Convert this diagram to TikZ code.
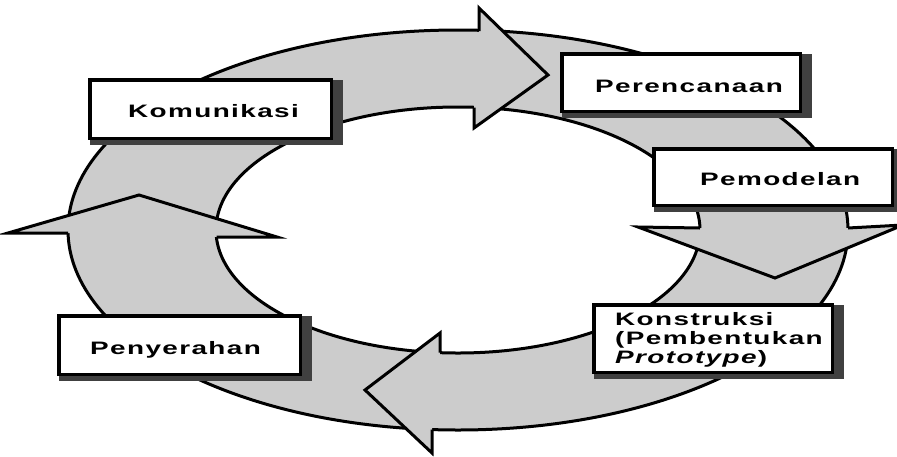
\documentclass[tikz,border=0pt]{standalone}
\usepackage{fontspec}
\setmainfont{Liberation Sans}
\newfontfamily\labfont[LetterSpace=5, ItalicFont={Liberation Sans Bold Italic}]{Liberation Sans Bold}
\usepackage{graphicx}
\definecolor{ringc}{HTML}{CCCCCC}
\definecolor{shadowc}{HTML}{404040}
\newcommand{\lbl}[1]{\scalebox{1.55}[1]{\labfont\fontsize{18}{19}\selectfont #1}}
\tikzset{
  outline/.style={draw=black, line width=3pt, line join=miter},
  boxframe/.style={inner sep=0pt, outer sep=0pt, rectangle},
  boxline/.style={draw=black, line width=3.5pt, fill=white},
  labnode/.style={inner sep=0pt, anchor=base west, text=black}
}
\begin{document}
\begin{tikzpicture}[x=1pt,y=-1pt]
\clip (0,0) rectangle (897,456);
\fill[white] (0,0) rectangle (897,456);
% ring
\fill[ringc, even odd rule] (458,230) ellipse [x radius=390pt, y radius=200pt]
                             (458,230) ellipse [x radius=242pt, y radius=123pt];
\draw[outline] (458,230) ellipse [x radius=390pt, y radius=200pt];
\draw[outline] (458,230) ellipse [x radius=242pt, y radius=123pt];
% top arrow head (to the right)
\coordinate (a1) at (479,31);
\coordinate (a2) at (479,8);
\coordinate (a3) at (548,75);
\coordinate (a4) at (474,128);
\coordinate (a5) at (474,107.5);
\fill[ringc] (a1)--(a2)--(a3)--(a4)--(a5)--cycle;
\draw[outline] (a1)--(a2)--(a3)--(a4)--(a5);
% right arrow head (downwards)
\coordinate (b1) at (700,228);
\coordinate (b2) at (638,227);
\coordinate (b3) at (775,278);
\coordinate (b4) at (903,225);
\coordinate (b5) at (848,228);
\fill[ringc] (b1)--(b2)--(b3)--(b4)--(b5)--cycle;
\draw[outline] (b1)--(b2)--(b3)--(b4)--(b5);
% bottom arrow head (to the left)
\coordinate (c1) at (440,352.5);
\coordinate (c2) at (440,333);
\coordinate (c3) at (365,390);
\coordinate (c4) at (432,453);
\coordinate (c5) at (432,429.5);
\fill[ringc] (c1)--(c2)--(c3)--(c4)--(c5)--cycle;
\draw[outline] (c1)--(c2)--(c3)--(c4)--(c5);
% left arrow head (upwards)
\coordinate (d1) at (68,233);
\coordinate (d2) at (8,233);
\coordinate (d3) at (139,195);
\coordinate (d4) at (277,237);
\coordinate (d5) at (216.5,237);
\fill[ringc] (d1)--(d2)--(d3)--(d4)--(d5)--cycle;
\draw[outline] (d1)--(d2)--(d3)--(d4)--(d5);
% box frames
\path node[boxframe, minimum width=241.5pt, minimum height=58.5pt] (kom) at (210.5,109) {};
\path node[boxframe, minimum width=238.5pt, minimum height=57.5pt] (per) at (681,82.5) {};
\path node[boxframe, minimum width=238.5pt, minimum height=56.5pt] (pem) at (773,177) {};
\path node[boxframe, minimum width=238.5pt, minimum height=67.5pt] (kon) at (713,338.5) {};
\path node[boxframe, minimum width=241.5pt, minimum height=58.5pt] (pen) at (179.5,345) {};
\foreach \b in {kom,per,pem,kon,pen}{
  \fill[shadowc] (\b.north west) rectangle ([shift={(12,7)}]\b.south east);
  \draw[boxline] (\b.north west) rectangle (\b.south east);
}
% labels
\node[labnode] (komt) at (128,117) {\lbl{Komunikasi}};
\node[labnode] (pert) at (595,92) {\lbl{Perencanaan}};
\node[labnode] (pemt) at (700,185) {\lbl{Pemodelan}};
\node[labnode] (pent) at (90,354) {\lbl{Penyerahan}};
\node[labnode] (kont) at (615,325) {\lbl{\begin{tabular}[t]{@{}l@{}}Konstruksi\\(Pembentukan\\\textit{Prototype})\end{tabular}}};
\end{tikzpicture}
\end{document}
